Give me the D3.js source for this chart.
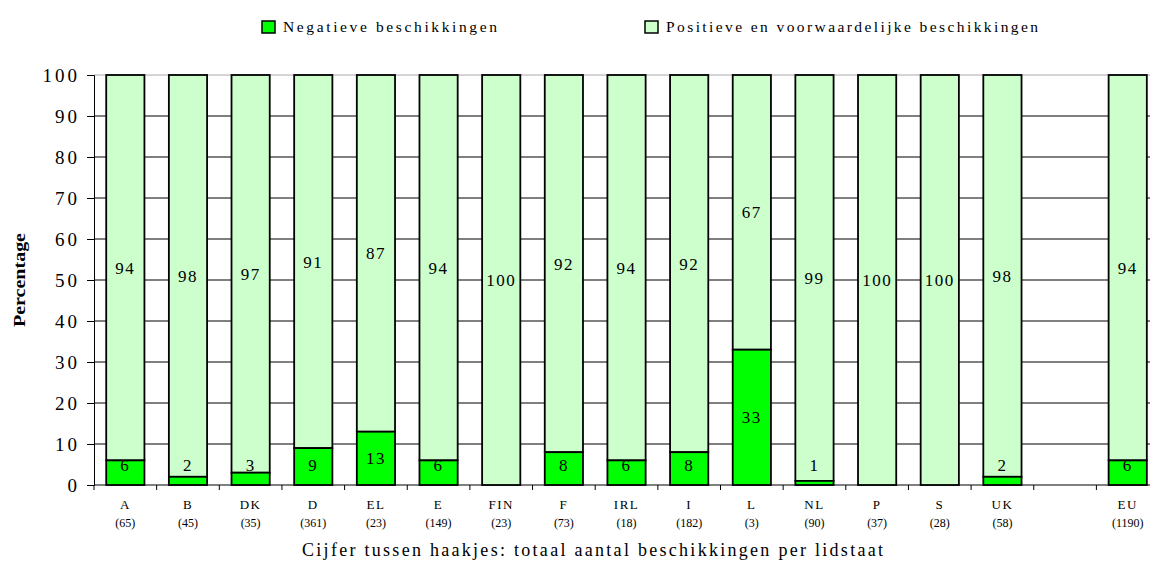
<!DOCTYPE html>
<html>
<head>
<meta charset="utf-8">
<script src="https://cdn.jsdelivr.net/npm/d3@7"></script>
<style>
  body { margin: 0; background: #fff; }
  svg { font-family: "Liberation Serif", "Times New Roman", serif; }
</style>
</head>
<body>
<svg id="chart" width="1150" height="566"></svg>
<script>
// categories and totals (blank slot between UK and EU)
var countries = ["A", "B", "DK", "D", "EL", "E", "FIN", "F", "IRL", "I", "L", "NL", "P", "S", "UK", "", "EU"];
var totals    = ["(65)", "(45)", "(35)", "(361)", "(23)", "(149)", "(23)", "(73)", "(18)", "(182)", "(3)", "(90)", "(37)", "(28)", "(58)", "", "(1190)"];
var negatief  = [6, 2, 3, 9, 13, 6, 0, 8, 6, 8, 33, 1, 0, 0, 2, null, 6];
var positief  = [94, 98, 97, 91, 87, 94, 100, 92, 94, 92, 67, 99, 100, 100, 98, null, 94];
var yTicks    = [0, 10, 20, 30, 40, 50, 60, 70, 80, 90, 100];

var COLORS = { neg: "#00ff00", pos: "#ccffcc" };

var svg = d3.select("#chart");
var plotLeft = 94, plotTop = 75, plotBottom = 485;
var slot = 62.65;

var x = d3.scaleBand()
    .domain(d3.range(countries.length))
    .range([plotLeft, plotLeft + slot * countries.length])
    .paddingInner(0.39)
    .paddingOuter(0.195);

var y = d3.scaleLinear().domain([0, 100]).range([plotBottom, plotTop]);

// grid lines
svg.append("g")
  .selectAll("line")
  .data(yTicks.filter(function(d) { return d > 0; }))
  .enter()
  .append("line")
  .attr("x1", plotLeft)
  .attr("x2", 1150)
  .attr("y1", function(d) { return y(d); })
  .attr("y2", function(d) { return y(d); })
  .attr("stroke", function(d) { return d == 100 ? "#aaa" : "#000"; })
  .attr("stroke-width", 1);

// y axis
var yAxis = svg.append("g")
  .attr("transform", "translate(" + plotLeft + " 0)")
  .call(d3.axisLeft(y).tickValues(yTicks).tickSize(7).tickPadding(7));
yAxis.select(".domain").attr("stroke", "#000");
yAxis.selectAll("text")
  .style("font-size", "19px")
  .style("font-family", "Liberation Serif")
  .style("letter-spacing", "3px")
  .attr("fill", "#000");

// x axis line + ticks at slot boundaries
svg.append("line")
  .attr("x1", plotLeft).attr("x2", 1150)
  .attr("y1", plotBottom).attr("y2", plotBottom)
  .attr("stroke", "#000");
svg.append("g")
  .selectAll("line")
  .data(d3.range(countries.length + 1))
  .enter()
  .append("line")
  .attr("x1", function(i) { return plotLeft + i * slot; })
  .attr("x2", function(i) { return plotLeft + i * slot; })
  .attr("y1", plotBottom)
  .attr("y2", plotBottom + 5)
  .attr("stroke", "#000");

// stacked bars
var idx = d3.range(countries.length).filter(function(i) { return negatief[i] != null; });

var bars = svg.append("g").selectAll("g")
  .data(idx)
  .enter()
  .append("g");

bars.append("rect")
  .attr("x", function(i) { return x(i); })
  .attr("width", x.bandwidth())
  .attr("y", function(i) { return y(negatief[i] + positief[i]); })
  .attr("height", function(i) { return y(negatief[i]) - y(negatief[i] + positief[i]); })
  .attr("fill", COLORS.pos)
  .attr("stroke", "#000")
  .attr("stroke-width", 1.8);

bars.filter(function(i) { return negatief[i] > 0; })
  .append("rect")
  .attr("x", function(i) { return x(i); })
  .attr("width", x.bandwidth())
  .attr("y", function(i) { return y(negatief[i]); })
  .attr("height", function(i) { return y(0) - y(negatief[i]); })
  .attr("fill", COLORS.neg)
  .attr("stroke", "#000")
  .attr("stroke-width", 1.8);

// value labels
bars.append("text")
  .attr("x", function(i) { return x(i) + x.bandwidth() / 2; })
  .attr("y", function(i) { return y(negatief[i] + positief[i] / 2); })
  .attr("dy", "0.35em")
  .attr("text-anchor", "middle")
  .style("font-size", "17px")
  .style("letter-spacing", "1.5px")
  .text(function(i) { return positief[i]; });

bars.filter(function(i) { return negatief[i] > 0; })
  .append("text")
  .attr("x", function(i) { return x(i) + x.bandwidth() / 2; })
  .attr("y", function(i) { return Math.min(y(negatief[i] / 2), plotBottom - 20); })
  .attr("dy", "0.35em")
  .attr("text-anchor", "middle")
  .style("font-size", "17px")
  .style("letter-spacing", "1.5px")
  .text(function(i) { return negatief[i]; });

// category labels
var cats = svg.append("g").selectAll("g")
  .data(d3.range(countries.length))
  .enter()
  .append("g")
  .attr("transform", function(i) { return "translate(" + (x(i) + x.bandwidth() / 2) + " 0)"; });
cats.append("text")
  .attr("y", 509)
  .attr("text-anchor", "middle")
  .style("font-size", "13px")
  .style("letter-spacing", "1.5px")
  .text(function(i) { return countries[i]; });
cats.append("text")
  .attr("y", 527)
  .attr("text-anchor", "middle")
  .style("font-size", "12px")
  .text(function(i) { return totals[i]; });

// axis titles
svg.append("text")
  .attr("x", 302)
  .attr("y", 556)
  .attr("textLength", 581)
  .attr("lengthAdjust", "spacing")
  .style("font-size", "18px")
  .text("Cijfer tussen haakjes: totaal aantal beschikkingen per lidstaat");

svg.append("text")
  .attr("transform", "translate(25 280) rotate(-90)")
  .attr("x", -47)
  .attr("textLength", 94)
  .attr("lengthAdjust", "spacingAndGlyphs")
  .style("font-size", "17px")
  .style("font-weight", "bold")
  .text("Percentage");

// legend
var legend = [
  { label: "Negatieve beschikkingen", color: COLORS.neg, x: 262, w: 214 },
  { label: "Positieve en voorwaardelijke beschikkingen", color: COLORS.pos, x: 645, w: 372 }
];
var lg = svg.append("g").selectAll("g")
  .data(legend)
  .enter()
  .append("g")
  .attr("transform", function(d) { return "translate(" + d.x + " 21)"; });
lg.append("rect")
  .attr("width", 13).attr("height", 12)
  .attr("fill", function(d) { return d.color; })
  .attr("stroke", "#000")
  .attr("stroke-width", 1.5);
lg.append("text")
  .attr("x", 21)
  .attr("y", 11)
  .attr("textLength", function(d) { return d.w; })
  .attr("lengthAdjust", "spacing")
  .style("font-size", "15.5px")
  .text(function(d) { return d.label; });
</script>
</body>
</html>
